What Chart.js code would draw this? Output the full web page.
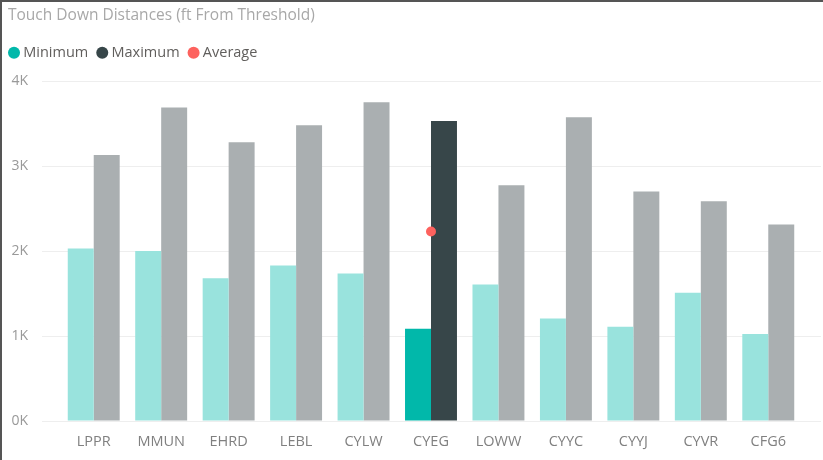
<!DOCTYPE html>
<html>
<head>
<meta charset="utf-8">
<script src="https://cdn.jsdelivr.net/npm/chart.js@4.4.0/dist/chart.umd.min.js"></script>
<style>
  html, body { margin: 0; padding: 0; background: #fff; }
  #wrap { width: 823px; height: 460px; box-sizing: border-box; border-top: 2px solid #555; border-left: 2px solid #555; }
  canvas { display: block; }
</style>
</head>
<body>
<div id="wrap"><canvas id="myChart" width="821" height="458"></canvas></div>
<script>
var airports = ['LPPR', 'MMUN', 'EHRD', 'LEBL', 'CYLW', 'CYEG', 'LOWW', 'CYYC', 'CYYJ', 'CYVR', 'CFG6'];
var minimum = [2030, 2000, 1680, 1830, 1735, 1085, 1605, 1205, 1110, 1510, 1025];
var maximum = [3130, 3690, 3280, 3480, 3750, 3530, 2775, 3575, 2700, 2585, 2313];
var average = [null, null, null, null, null, 2230, null, null, null, null, null];
var yTicks = [0, 1000, 2000, 3000, 4000];
var selected = 'CYEG';

var font = '"Segoe UI", "Open Sans", sans-serif';
var legendKleur = ['#01B8AA', '#374649', '#FD625E'];

// gekozen vliegveld vol, de rest vaag
function kleuren(vol, vaag) {
    return airports.map(function (a) { return a === selected ? vol : vaag; });
}

// rasterlijnen iets doortrekken naar rechts, en legenda iets naar links
var extraPlugin = {
    id: 'extraPlugin',
    afterLayout: function (chart) {
        chart.legend.left -= 8;
        chart.legend.right -= 8;
    },
    beforeDatasetsDraw: function (chart) {
        var c = chart.ctx, y = chart.scales.y, area = chart.chartArea;
        c.save();
        c.strokeStyle = '#eeeeee';
        c.lineWidth = 1;
        yTicks.forEach(function (t) {
            var py = Math.round(y.getPixelForValue(t)) + 0.5;
            c.beginPath();
            c.moveTo(area.right, py);
            c.lineTo(chart.width - 2, py);
            c.stroke();
        });
        c.restore();
    }
};

var ctx = document.getElementById('myChart');
var myChart = new Chart(ctx, {
    type: 'bar',
    data: {
        labels: airports,
        datasets: [{
            label: 'Minimum',
            data: minimum,
            backgroundColor: kleuren('#01B8AA', '#99E3DD'),
            categoryPercentage: 0.77,
            barPercentage: 1
        }, {
            label: 'Maximum',
            data: maximum,
            backgroundColor: kleuren('#374649', '#AAAFB1'),
            categoryPercentage: 0.77,
            barPercentage: 1
        }, {
            type: 'line',
            label: 'Average',
            data: average,
            showLine: false,
            backgroundColor: '#FD625E',
            borderColor: '#FD625E',
            pointRadius: 5,
            pointBorderWidth: 0,
            order: -1
        }]
    },
    options: {
        responsive: false,
        animation: false,
        events: [],
        layout: { padding: { left: 6, right: 21, top: 4, bottom: 0 } },
        plugins: {
            tooltip: { enabled: false },
            title: {
                display: true,
                text: 'Touch Down Distances (ft From Threshold)',
                align: 'start',
                color: '#a8a8a8',
                font: { family: font, size: 15.5, weight: 'normal' },
                padding: { top: 0, bottom: 9 }
            },
            // lege ondertitel als ruimte tussen legenda en grafiek
            subtitle: {
                display: true,
                text: '',
                weight: 500,
                font: { size: 1, lineHeight: 1 },
                padding: { top: 0, bottom: 10 }
            },
            legend: {
                align: 'start',
                labels: {
                    usePointStyle: true,
                    pointStyle: 'circle',
                    boxWidth: 4,
                    boxHeight: 8.5,
                    padding: 12,
                    color: '#605e5c',
                    font: { family: font, size: 14.5 },
                    sort: function (a, b) { return a.datasetIndex - b.datasetIndex; },
                    generateLabels: function (chart) {
                        var items = Chart.defaults.plugins.legend.labels.generateLabels(chart);
                        items.forEach(function (it) {
                            it.fillStyle = legendKleur[it.datasetIndex];
                            it.strokeStyle = legendKleur[it.datasetIndex];
                            it.lineWidth = 0;
                        });
                        return items;
                    }
                }
            }
        },
        scales: {
            x: {
                grid: { display: false, drawTicks: false },
                border: { display: false },
                ticks: { color: '#808080', padding: 12, font: { family: font, size: 14.5 } },
                afterFit: function (s) { s.height = 39; }
            },
            y: {
                min: 0,
                max: 4000,
                afterBuildTicks: function (s) { s.ticks = yTicks.map(function (v) { return { value: v }; }); },
                grid: { color: '#eeeeee', tickLength: 18, drawTicks: true },
                border: { display: false },
                ticks: {
                    color: '#999999',
                    padding: 14,
                    font: { family: font, size: 14 },
                    callback: function (v) { return (v / 1000) + 'K'; }
                },
                afterFit: function (s) { s.width = 52; }
            }
        }
    },
    plugins: [extraPlugin]
});
</script>
</body>
</html>
